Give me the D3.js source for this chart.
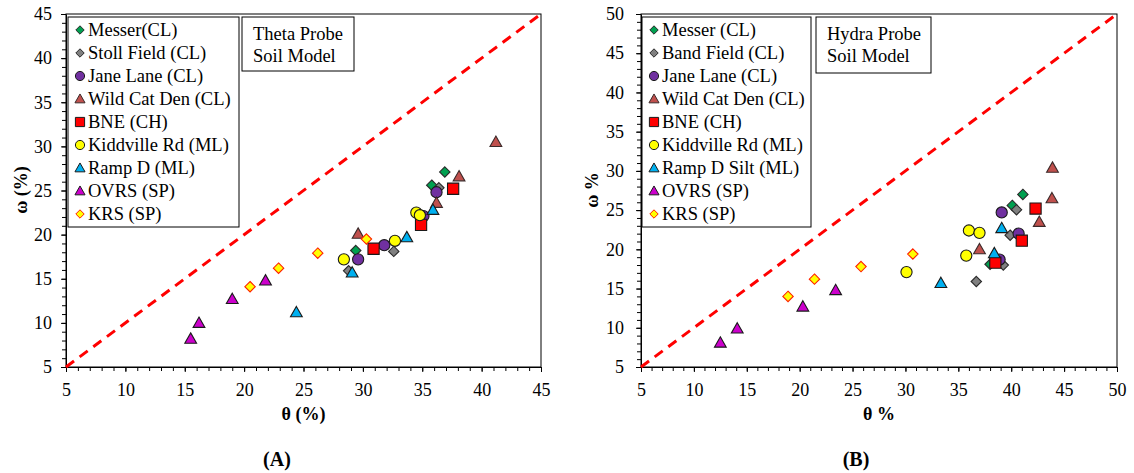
<!DOCTYPE html>
<html><head><meta charset="utf-8">
<script src="https://cdn.jsdelivr.net/npm/d3@7"></script>
<style>
html,body{margin:0;padding:0;background:#fff;}
svg{display:block;}
</style>
</head><body>
<svg id="c" width="1134" height="473"></svg>
<script>
// ---------- DATA ----------
const namesA = ["Messer(CL)","Stoll Field (CL)","Jane Lane (CL)","Wild Cat Den (CL)","BNE (CH)","Kiddville Rd (ML)","Ramp D (ML)","OVRS (SP)","KRS (SP)"];
const namesB = ["Messer (CL)","Band Field (CL)","Jane Lane (CL)","Wild Cat Den (CL)","BNE (CH)","Kiddville Rd (ML)","Ramp D Silt (ML)","OVRS (SP)","KRS (SP)"];

// Chart A (Theta Probe): [theta %, omega %]
const messerA    = [[29.4,18.2],[35.8,25.6],[36.9,27.1]];
const stollA     = [[28.8,15.9],[32.6,18.1],[36.4,25.3]];
const janeA      = [[29.6,17.2],[31.8,18.8],[35.1,22.1],[36.2,24.8]];
const wildcatA   = [[29.6,20.1],[36.2,23.6],[38.1,26.6],[41.2,30.5]];
const bneA       = [[30.9,18.4],[34.9,21.1],[37.6,25.2]];
const kiddvilleA = [[28.4,17.2],[32.7,19.3],[34.5,22.5],[34.8,22.2]];
const rampA      = [[24.4,11.2],[29.1,15.7],[33.7,19.7],[35.9,22.8]];
const ovrsA      = [[15.5,8.2],[16.2,10.0],[19.0,12.7],[21.8,14.8]];
const krsA       = [[20.5,14.1],[22.9,16.2],[26.2,17.9],[30.3,19.5]];

// Chart B (Hydra Probe): [theta %, omega %]
const messerB    = [[38.0,18.1],[40.1,25.6],[41.1,27.0]];
const bandB      = [[36.7,15.9],[39.25,18.0],[39.9,21.8],[40.5,25.05]];
const janeB      = [[38.9,18.7],[39.1,24.7],[40.7,22.0]];
const wildcatB   = [[37.0,20.0],[42.65,23.5],[43.85,26.5],[43.9,30.4]];
const bneB       = [[38.5,18.3],[41.0,21.1],[42.3,25.2]];
const kiddvilleB = [[30.1,17.1],[35.75,19.2],[36.0,22.4],[37.0,22.1]];
const rampB      = [[33.35,15.7],[38.4,19.5],[39.1,22.7]];
const ovrsB      = [[12.5,8.1],[14.1,9.9],[20.3,12.7],[23.4,14.8]];
const krsB       = [[18.9,14.0],[21.4,16.2],[25.8,17.8],[30.7,19.4]];

const xTicksA = [5,10,15,20,25,30,35,40,45];
const yTicksA = [5,10,15,20,25,30,35,40,45];
const xTicksB = [5,10,15,20,25,30,35,40,45,50];
const yTicksB = [5,10,15,20,25,30,35,40,45,50];

// ---------- STYLES ----------
const styles = [
  {shape:"diamond", fill:"#00A050", stroke:"#2a2a2a"},
  {shape:"diamond", fill:"#808080", stroke:"#2a2a2a"},
  {shape:"circle",  fill:"#7030A0", stroke:"#1a1a1a"},
  {shape:"triangle",fill:"#C0504D", stroke:"#3a2a2a"},
  {shape:"square",  fill:"#FF0000", stroke:"#1a1a1a"},
  {shape:"circle",  fill:"#FFFF00", stroke:"#1a1a1a"},
  {shape:"triangle",fill:"#00B0F0", stroke:"#1a1a1a"},
  {shape:"triangle",fill:"#CC00CC", stroke:"#1a1a1a"},
  {shape:"diamond", fill:"#FFFF00", stroke:"#FF2000"}
];
const chartSize = {diamond:5.2, circle:5.6, triangle:5.6, square:5.6};
const legendSize = {diamond:4.2, circle:4.6, triangle:4.8, square:4.6};

function shapePath(shape, s){
  if(shape==="diamond") return `M0,${-s}L${s},0L0,${s}L${-s},0Z`;
  if(shape==="square") return `M${-s},${-s}H${s}V${s}H${-s}Z`;
  if(shape==="triangle") return `M0,${-s*1.05}L${s*1.05},${s*0.8}L${-s*1.05},${s*0.8}Z`;
  return d3.path ? (()=>{const p=d3.path(); p.arc(0,0,s,0,2*Math.PI); p.closePath(); return p.toString();})() : "";
}

const svg = d3.select("#c");
const FONT = "'Liberation Serif','Times New Roman',serif";

function drawChart(cfg){
  const x = d3.scaleLinear().domain(cfg.xDom).range([cfg.left, cfg.right]);
  const y = d3.scaleLinear().domain(cfg.yDom).range([cfg.bottom, cfg.top]);
  const g = svg.append("g");

  // frame
  g.append("rect").attr("x",cfg.left).attr("y",cfg.top)
    .attr("width",cfg.right-cfg.left).attr("height",cfg.bottom-cfg.top)
    .attr("fill","none").attr("stroke","#000").attr("stroke-width",1);

  // minor ticks
  const xMinor = d3.range(cfg.xDom[0], cfg.xDom[1]+0.001, 1);
  const yMinor = d3.range(cfg.yDom[0], cfg.yDom[1]+0.001, 1);
  g.append("g").attr("transform",`translate(0,${cfg.bottom})`)
    .call(d3.axisBottom(x).tickValues(xMinor).tickSize(4).tickFormat(""))
    .call(a=>a.select(".domain").remove());
  g.append("g").attr("transform",`translate(${cfg.left},0)`)
    .call(d3.axisLeft(y).tickValues(yMinor).tickSize(4).tickFormat(""))
    .call(a=>a.select(".domain").remove());

  // major axes
  const xa = g.append("g").attr("transform",`translate(0,${cfg.bottom})`)
    .call(d3.axisBottom(x).tickValues(cfg.xTicks).tickSize(5).tickPadding(11).tickSizeOuter(0));
  const ya = g.append("g").attr("transform",`translate(${cfg.left},0)`)
    .call(d3.axisLeft(y).tickValues(cfg.yTicks).tickSize(5).tickPadding(cfg.yPad).tickSizeOuter(0));
  [xa,ya].forEach(a=>{
    a.attr("font-family",FONT).attr("font-size",18);
    a.selectAll("text").attr("fill","#000");
    a.selectAll("line").attr("stroke","#000");
    a.select(".domain").attr("stroke","#000");
  });

  // 1:1 line
  const lo = Math.max(cfg.xDom[0], cfg.yDom[0]), hi = Math.min(cfg.xDom[1], cfg.yDom[1]);
  g.append("line").attr("x1",x(lo)).attr("y1",y(lo)).attr("x2",x(hi)).attr("y2",y(hi))
    .attr("stroke","#FF0000").attr("stroke-width",3).attr("stroke-dasharray","10,7");

  // points
  cfg.series.forEach((s,i)=>{
    const st = styles[i];
    g.append("g").selectAll("path").data(s).join("path")
      .attr("d", shapePath(st.shape, chartSize[st.shape]))
      .attr("transform", d=>`translate(${x(d[0])},${y(d[1])})`)
      .attr("fill", st.fill).attr("stroke", st.stroke).attr("stroke-width", 1.1);
  });

  // legend
  const lg = g.append("g");
  lg.append("rect").attr("x",cfg.legX).attr("y",17).attr("width",cfg.legW).attr("height",210)
    .attr("fill","#fff").attr("stroke","#000").attr("stroke-width",1);
  cfg.names.forEach((n,i)=>{
    const st = styles[i];
    const cy = 30 + i*23.0;
    lg.append("path").attr("d", shapePath(st.shape, legendSize[st.shape]))
      .attr("transform",`translate(${cfg.legX+12},${cy})`)
      .attr("fill",st.fill).attr("stroke",st.stroke).attr("stroke-width",1);
    lg.append("text").attr("x",cfg.legX+20).attr("y",cy+6.3)
      .attr("font-family",FONT).attr("font-size",18.5).attr("fill","#000").text(n);
  });

  // annotation box
  const ab = g.append("g");
  ab.append("rect").attr("x",cfg.boxX).attr("y",17).attr("width",cfg.boxW).attr("height",cfg.boxH)
    .attr("fill","#fff").attr("stroke","#000").attr("stroke-width",1);
  cfg.boxText.forEach((t,i)=>{
    ab.append("text").attr("x",cfg.boxX+11).attr("y",40+i*22.3)
      .attr("font-family",FONT).attr("font-size",18.5).attr("fill","#000").text(t);
  });

  // axis titles
  g.append("text").attr("x",x((cfg.xDom[0]+cfg.xDom[1])/2)).attr("y",420)
    .attr("text-anchor","middle").attr("font-family",FONT).attr("font-weight","bold")
    .attr("font-size",18).text(cfg.xTitle);
  g.append("text").attr("transform",`translate(${cfg.yTitleX},190) rotate(-90)`)
    .attr("text-anchor","middle").attr("font-family",FONT).attr("font-weight","bold")
    .attr("font-size",18).text(cfg.yTitle);
  g.append("text").attr("x",cfg.labelX).attr("y",466)
    .attr("text-anchor","middle").attr("font-family",FONT).attr("font-weight","bold")
    .attr("font-size",20).text(cfg.label);
}

drawChart({
  xDom:[5,45], yDom:[5,45], left:66, right:541, top:14, bottom:367,
  xTicks:xTicksA, yTicks:yTicksA, yPad:9,
  series:[messerA,stollA,janeA,wildcatA,bneA,kiddvilleA,rampA,ovrsA,krsA],
  names:namesA, legX:68, legW:171,
  boxX:242, boxW:112, boxH:54, boxText:["Theta Probe","Soil Model"],
  xTitle:"θ (%)", yTitle:"ω (%)", yTitleX:27, label:"(A)", labelX:277
});
drawChart({
  xDom:[5,50], yDom:[5,50], left:641, right:1117, top:14, bottom:367,
  xTicks:xTicksB, yTicks:yTicksB, yPad:12,
  series:[messerB,bandB,janeB,wildcatB,bneB,kiddvilleB,rampB,ovrsB,krsB],
  names:namesB, legX:642, legW:169,
  boxX:816, boxW:115, boxH:56, boxText:["Hydra Probe","Soil Model"],
  xTitle:"θ %", yTitle:"ω %", yTitleX:598, label:"(B)", labelX:856
});
</script>
</body></html>
